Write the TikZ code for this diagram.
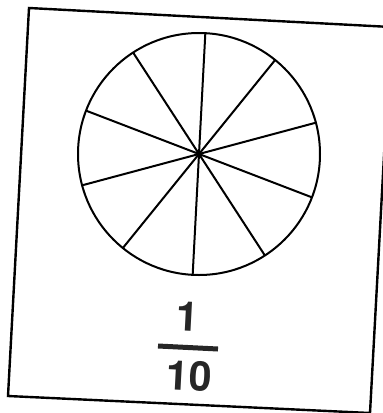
\documentclass[tikz,border=0pt]{standalone}
\usepackage{fontspec}
\setsansfont{TeX Gyre Heros}
\usetikzlibrary{calc}
\begin{document}
\begin{tikzpicture}[x=1pt, y=-1pt,
  cardline/.style={line width=2.4pt, line join=miter},
  wheelline/.style={line width=2pt},
  digitnode/.style={font=\sffamily\bfseries\fontsize{41}{43}\selectfont,
    color=black!85, rotate=-3, inner sep=0pt},
  barline/.style={line width=5pt, color=black!85},
]
  \useasboundingbox (0,0) rectangle (383,413);

  % Card
  \coordinate (tl) at (29,8);
  \coordinate (tr) at (391,27);
  \coordinate (br) at (370,413);
  \coordinate (bl) at (8,396);
  \draw[cardline] (tl) -- (tr) -- (br) -- (bl) -- cycle;

  % Wheel in ten parts
  \coordinate (c) at (199,154);
  \draw[wheelline] (c) circle (121);
  \foreach \k in {0,...,4}
    \draw[wheelline] ($(c)+(-87+36*\k:121)$) -- ($(c)+(93+36*\k:121)$);

  % Fraction
  \node[digitnode] (num) at (188,317) {1};
  \node[digitnode] (den) at (189,376) {10};
  \coordinate (barl) at (158,346);
  \coordinate (barr) at (218,349);
  \draw[barline] (barl) -- (barr);
\end{tikzpicture}
\end{document}
